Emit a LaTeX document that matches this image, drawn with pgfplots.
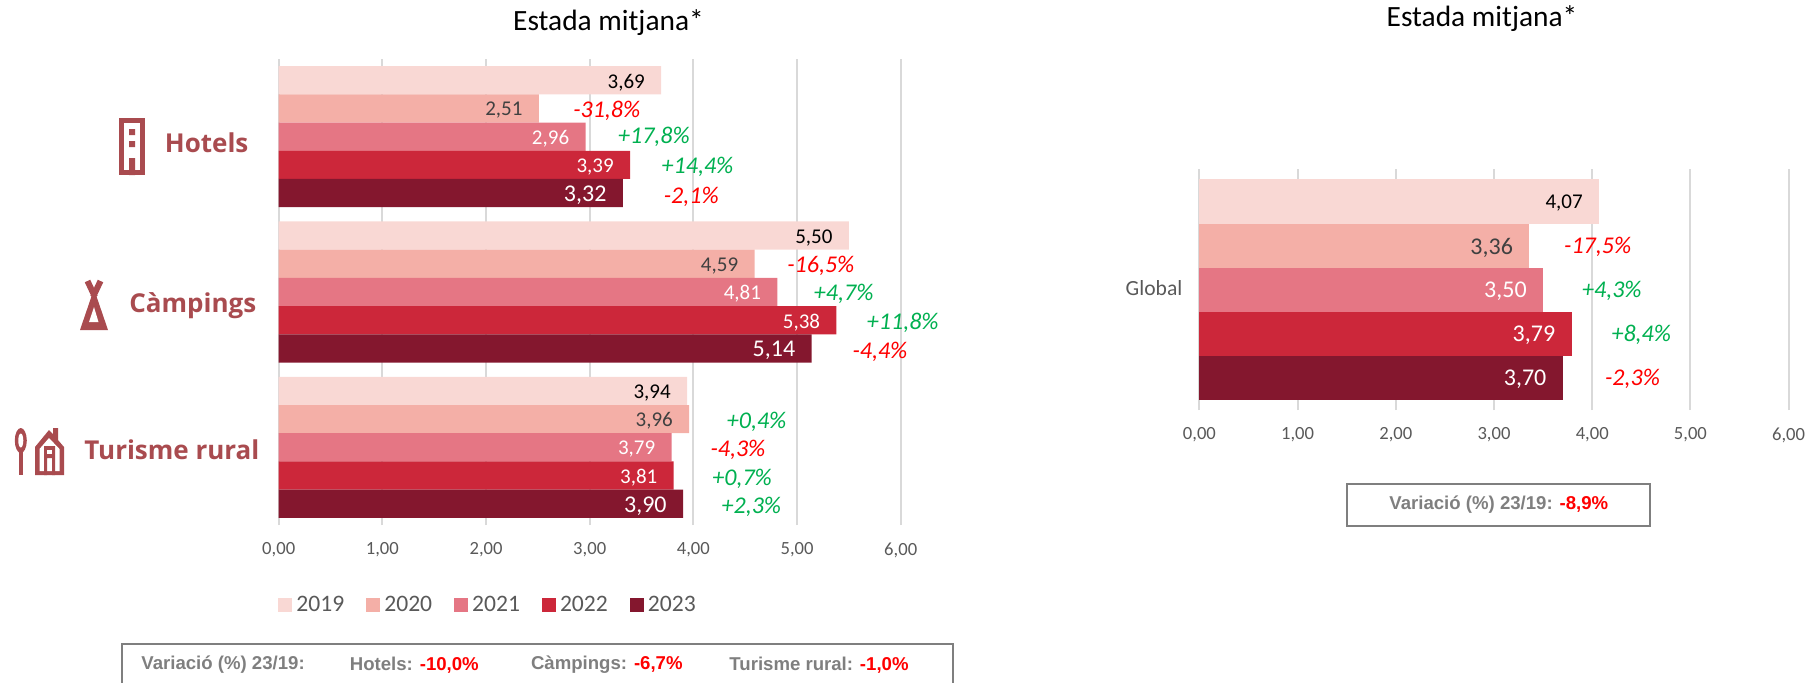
\documentclass[border=0pt]{standalone}
\usepackage{pgfplots}
\pgfplotsset{compat=1.18}
\usepackage{fontspec}
\setmainfont{Carlito}
\newfontfamily\arialf{Liberation Sans}
\newfontfamily\iconf{Open Sans}
\definecolor{cA}{HTML}{F9D8D4}
\definecolor{cB}{HTML}{F4AFA7}
\definecolor{cC}{HTML}{E57684}
\definecolor{cD}{HTML}{CC273A}
\definecolor{cE}{HTML}{84172E}
\definecolor{gridc}{HTML}{D9D9D9}
\definecolor{tickc}{HTML}{595959}
\definecolor{boxg}{HTML}{7F7F7F}
\definecolor{icon}{HTML}{A94B4F}
\definecolor{grn}{HTML}{00B050}
\pgfplotsset{
  common/.style={
    scale only axis, clip=false,
    xmin=0, xmax=6, xtick={0,1,2,3,4,5,6},
    axis lines=left, axis line style={-},
    x axis line style={draw=none},
    y axis line style={gridc, line width=1pt},
    xmajorgrids, grid style={gridc, line width=1pt},
    tick style={draw=none}, major tick length=0pt,
    /pgf/number format/.cd, fixed, fixed zerofill, precision=2, use comma, assume math mode=true, 1000 sep={},
    /pgfplots/.cd,
    xticklabel style={anchor=center, yshift=-12.5pt, font=\fontsize{9.3}{11}\selectfont, text=tickc},
  },
  mybar/.style n args={4}{
    xbar, draw=none, fill=#1, bar shift=#2, point meta=x,
    nodes near coords,
    every node near coord/.append style={anchor=east, xshift=-8pt, yshift=-1pt, shift={(axis direction cs:0,#2)}, inner sep=0pt, text=#3, font=\fontsize{#4}{#4}\selectfont},
  },
  varlab/.style={
    only marks, mark=none, forget plot, point meta=explicit symbolic,
    nodes near coords={\pgfplotspointmeta\%},
    every node near coord/.append style={anchor=center, inner sep=0pt, yshift=-1pt, text=#1, font=\fontsize{12}{12}\selectfont\itshape},
  },
  legend image code/.code={\fill[#1, draw=none] (0pt,-3.5pt) rectangle (7pt,3.5pt);},
}
\begin{document}
\begin{tikzpicture}
\path[use as bounding box] (0,0) rectangle (909pt,-341pt);
\begin{axis}[common,
  at={(139.35pt,-29.5pt)}, anchor=north west,
  width=311pt, height=233pt,
  ymin=-0.5, ymax=2.5, ytick=\empty,
  bar width=0.1816,
  legend style={draw=none, fill=none, anchor=west, at={(-0.001,-0.1717)},
    legend columns=5, font=\fontsize{11.8}{12}\selectfont, text=tickc,
    inner sep=0pt, /tikz/every even column/.append style={column sep=9pt}},
]
\addplot[mybar={cA}{0.3632}{black}{10.5}] coordinates {(3.69,2) (5.50,1) (3.94,0)};
\addlegendentry{2019}
\addplot[mybar={cB}{0.1816}{black!75}{10.5}] coordinates {(2.51,2) (4.59,1) (3.96,0)};
\addlegendentry{2020}
\addplot[mybar={cC}{0}{white}{10.5}] coordinates {(2.96,2) (4.81,1) (3.79,0)};
\addlegendentry{2021}
\addplot[mybar={cD}{-0.1816}{white}{10.5}] coordinates {(3.39,2) (5.38,1) (3.81,0)};
\addlegendentry{2022}
\addplot[mybar={cE}{-0.3632}{white}{12}] coordinates {(3.32,2) (5.14,1) (3.90,0)};
\addlegendentry{2023}
\addplot[varlab=red] table[x=x,y=y,meta=l] {
x y l
3.165 2.1816 -31,8
3.98 1.625 -2,1
5.23 1.1816 -16,5
5.80 0.63 -4,4
4.43 -0.005 -4,3
};
\addplot[varlab=grn] table[x=x,y=y,meta=l] {
x y l
3.62 2.015 +17,8
4.04 1.8184 +14,4
5.45 1.0 +4,7
6.02 0.8134 +11,8
4.61 0.175 +0,4
4.47 -0.187 +0,7
4.56 -0.369 +2,3
};
\end{axis}
\begin{axis}[common,
  at={(599.7pt,-84.5pt)}, anchor=north west,
  width=294.6pt, height=120.5pt,
  ymin=-0.5, ymax=0.5, ytick={0}, yticklabels={Global},
  yticklabel style={anchor=east, xshift=-5pt, yshift=0.5pt, font=\fontsize{10.8}{11}\selectfont, text=tickc},
  bar width=0.1826,
]
\addplot[mybar={cA}{0.3652}{black}{10.5}] coordinates {(4.07,0)};
\addplot[mybar={cB}{0.1826}{black!75}{12}] coordinates {(3.36,0)};
\addplot[mybar={cC}{0}{white}{12}] coordinates {(3.50,0)};
\addplot[mybar={cD}{-0.1826}{white}{12}] coordinates {(3.79,0)};
\addplot[mybar={cE}{-0.3652}{white}{12}] coordinates {(3.70,0)};
\addplot[varlab=red] table[x=x,y=y,meta=l] {
x y l
4.056 0.1866 -17,5
4.41 -0.3612 -2,3
};
\addplot[varlab=grn] table[x=x,y=y,meta=l] {
x y l
4.20 0.004 +4,3
4.50 -0.1786 +8,4
};
\end{axis}
\begin{scope}[x=0.5pt,y=-0.5pt]
  % titles
  \node[font=\fontsize{14.7}{15}\selectfont] at (608.5,22.5) {Estada mitjana*};
  \node[font=\fontsize{14.7}{15}\selectfont] at (1482,18.5) {Estada mitjana*};
  % category labels
  \node[anchor=west, inner sep=0pt, text=icon, font=\iconf\bfseries\fontsize{13}{13}\selectfont] at (164.5,143) {Hotels};
  \node[anchor=west, inner sep=0pt, text=icon, font=\iconf\bfseries\fontsize{13}{13}\selectfont] at (129,306) {Càmpings};
  \node[anchor=west, inner sep=0pt, text=icon, font=\iconf\bfseries\fontsize{13}{13}\selectfont] at (84,450) {Turisme rural};
  % hotel icon
  \draw[icon, line width=2.5pt] (121,120.5) rectangle (142.5,172.5);
  \fill[icon] (129,129) rectangle (135,135) (129,141) rectangle (135,147) (129,158) rectangle (135,175);
  % tent icon
  \fill[icon] (94,289) -- (80,330) -- (108,330) -- cycle;
  \fill[white] (94,307) -- (98.5,322) -- (89,322) -- cycle;
  \draw[icon, line width=3pt] (87.5,281) -- (95,297) (100.5,281) -- (93,297);
  % rural icon
  \fill[icon] (20.8,440.5) ellipse (6 and 12.5);
  \fill[white] (20.8,440.5) ellipse (2.5 and 7);
  \draw[icon, line width=2.25pt] (20.8,450) -- (20.8,475);
  \fill[icon] (35,475) -- (35,447) -- (49,430) -- (53,434) -- (53,428) -- (58,428) -- (58,440) -- (64,447) -- (64,475) -- cycle;
  \fill[white] (39.5,471) -- (39.5,449) -- (49,438) -- (59.5,449) -- (59.5,471) -- cycle;
  \fill[icon] (44,446) rectangle (55,458) (44,458) rectangle (47,475) (52,458) rectangle (55,475);
  \fill[white] (47,449.5) rectangle (52,454);
  % boxes
  \draw[boxg, line width=1pt] (122,690) -- (122,644) -- (953,644) -- (953,690);
  \draw[boxg, line width=1pt] (1347,484) rectangle (1650,526);
  \begin{scope}[every node/.style={inner sep=0pt, anchor=west, font=\arialf\bfseries\fontsize{9.3}{10}\selectfont, text=boxg}]
    \node at (141,665) {Variació (\%) 23/19:};
    \node at (349.5,665) {Hotels: \textcolor{red}{-10,0\%}};
    \node at (530.6,665) {Càmpings: \textcolor{red}{-6,7\%}};
    \node at (729,665) {Turisme rural: \textcolor{red}{-1,0\%}};
    \node at (1389,505) {Variació (\%) 23/19: \textcolor{red}{-8,9\%}};
  \end{scope}
\end{scope}
\end{tikzpicture}
\end{document}
